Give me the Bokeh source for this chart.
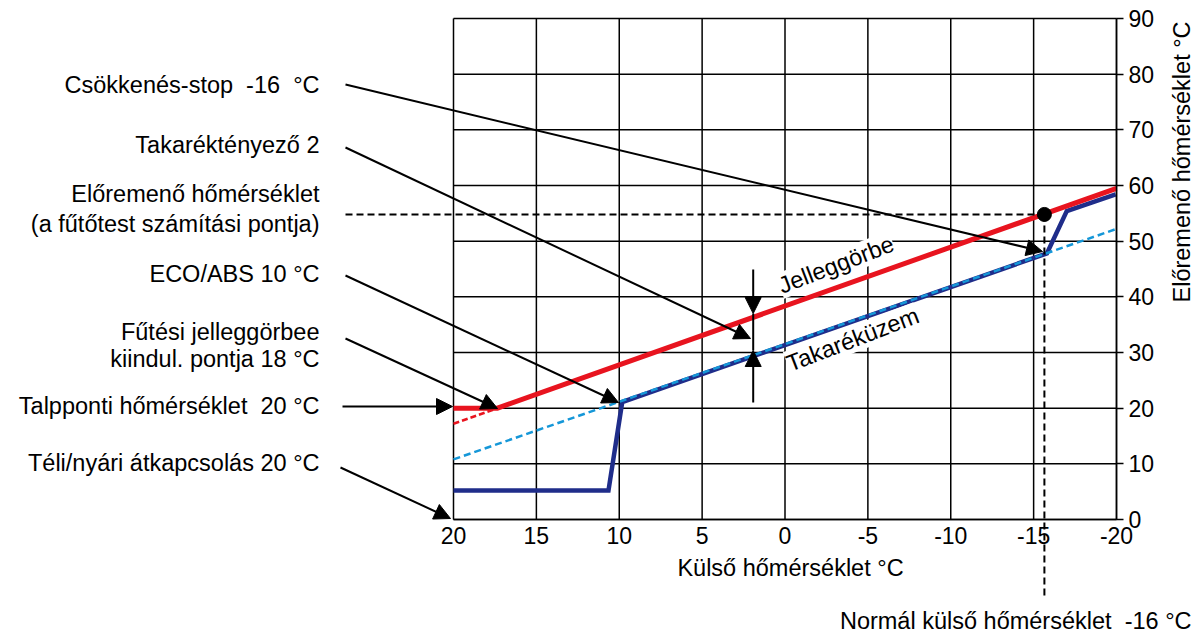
import math
from bokeh.plotting import figure
from bokeh.models import Range1d, FixedTicker, Label, Arrow, NormalHead, LinearAxis
from bokeh.embed import file_html
from bokeh.resources import INLINE

# ---------------- data ----------------
x_ticks = [20, 15, 10, 5, 0, -5, -10, -15, -20]
x_tick_labels = ["20", "15", "10", "5", "0", "-5", "-10", "-15", "-20"]
y_ticks = [0, 10, 20, 30, 40, 50, 60, 70, 80, 90]
y_tick_labels = ["0", "10", "20", "30", "40", "50", "60", "70", "80", "90"]

# heating curve (Jelleggörbe), red
heating_x = [20, 17.35, -20]
heating_y = [20, 20, 59.5]
# dashed extension of the heating curve below the floor temperature
heating_ext_x = [20, 17.35]
heating_ext_y = [17.2, 20]
# reduced (economy) curve, light blue dashed
reduced_x = [20, -20]
reduced_y = [10.8, 52.2]
# resulting flow temperature, navy
actual_x = [20, 10.65, 9.82, -15.8, -17.0, -19.95]
actual_y = [5.2, 5.2, 21.1, 47.8, 55.4, 58.4]
# design point
design_outdoor = -15.65
design_flow = 54.8

# ---------------- layout / style ----------------
FONT = "Liberation Sans"
FS = "23px"
FS_T = "23.5px"
RED = "#e8141f"
NAVY = "#1f2d8a"
LBLUE = "#1597d8"
NB = "\u00a0"

W, H = 1200, 633
# pixel position of the chart area inside the canvas
FL, FR, FT, FB = 453, 1116, 18, 519
XMAX, XMIN = x_ticks[0], x_ticks[-1]
YMIN, YMAX = y_ticks[0], y_ticks[-1]


def dx(px):
    return XMAX + (px - FL) * (XMIN - XMAX) / (FR - FL)


def dy(py):
    return YMIN + (FB - py) * (YMAX - YMIN) / (FB - FT)


p = figure(width=W, height=H, output_backend="svg", toolbar_location=None,
           x_range=Range1d(dx(0), dx(W)), y_range=Range1d(dy(H), dy(0)),
           x_axis_type=None, y_axis_type=None,
           min_border=0, min_border_left=0, min_border_right=0,
           min_border_top=0, min_border_bottom=0)
p.background_fill_color = "white"
p.border_fill_color = "white"
p.outline_line_color = None

# grid lines of the chart area
p.segment(x0=x_ticks, y0=[YMIN] * len(x_ticks), x1=x_ticks, y1=[YMAX] * len(x_ticks),
          line_color="black", line_width=1.5)
p.segment(x0=[XMAX] * len(y_ticks), y0=y_ticks, x1=[XMIN] * len(y_ticks), y1=y_ticks,
          line_color="black", line_width=1.5)

xa = LinearAxis(fixed_location=YMIN, bounds=(XMIN, XMAX))
xa.ticker = FixedTicker(ticks=x_ticks)
xa.major_label_overrides = {t: l for t, l in zip(x_ticks, x_tick_labels)}
xa.major_tick_out = 0
xa.major_tick_in = 0
xa.minor_tick_out = 0
xa.minor_tick_in = 0
xa.axis_line_color = "black"
xa.axis_line_width = 1.5
xa.major_label_standoff = 7
xa.major_label_text_font = FONT
xa.major_label_text_font_size = FS
xa.major_label_text_color = "black"
p.add_layout(xa, "below")

ya = LinearAxis(fixed_location=XMIN, bounds=(YMIN, YMAX))
ya.ticker = FixedTicker(ticks=y_ticks)
ya.major_label_overrides = {t: l for t, l in zip(y_ticks, y_tick_labels)}
ya.major_tick_out = 7
ya.major_tick_in = 0
ya.minor_tick_out = 0
ya.minor_tick_in = 0
ya.major_tick_line_width = 1.5
ya.axis_line_color = "black"
ya.axis_line_width = 1.5
ya.major_label_standoff = 5
ya.major_label_text_font = FONT
ya.major_label_text_font_size = FS
ya.major_label_text_color = "black"
p.add_layout(ya, "right")

# ---------------- curves ----------------
p.line(heating_ext_x, heating_ext_y, line_color=RED, line_width=2.5, line_dash="6 3")
p.line(actual_x, actual_y, line_color=NAVY, line_width=4.5, line_join="miter")
p.line(reduced_x, reduced_y, line_color=LBLUE, line_width=2.5, line_dash="7 4")
p.line(heating_x, heating_y, line_color=RED, line_width=5, line_join="miter")
p.scatter([design_outdoor], [design_flow], size=14, fill_color="black", line_color="black")


def seg(x0, y0, x1, y1, head=True, dash="solid", width=2):
    end = NormalHead(size=16, fill_color="black", line_color="black", line_width=1) if head else None
    p.add_layout(Arrow(x_start=x0, y_start=y0, x_end=x1, y_end=y1, end=end,
                       line_color="black", line_width=width, line_dash=dash))


# design lines (dashed)
seg(dx(345), design_flow, design_outdoor, design_flow, head=False, dash="7 4")
seg(design_outdoor, design_flow, design_outdoor, dy(598), head=False, dash="7 4")

# pointer arrows from the left-hand texts (page pixels: start -> tip)
pointers = [
    (345, 84, 1042, 251),
    (345, 147, 750, 338),
    (345, 275, 618, 402),
    (345, 338, 497, 408),
    (342, 406, 452, 406),
    (340, 467, 450, 518),
]
for x0, y0, x1, y1 in pointers:
    seg(dx(x0), dy(y0), dx(x1), dy(y1))

# double arrow between heating curve and economy curve
seg(dx(752.7), dy(269), dx(752.7), dy(313))
seg(dx(752.7), dy(313), dx(752.7), dy(350), head=False)
seg(dx(752.7), dy(402), dx(752.7), dy(350))

# ---------------- texts ----------------
left_texts = [
    ("Csökkenés-stop" + NB + NB + "-16" + NB + NB + "°C", 84),
    ("Takaréktényező 2", 144),
    ("Előremenő hőmérséklet", 193),
    ("(a fűtőtest számítási pontja)", 223),
    ("ECO/ABS 10 °C", 273),
    ("Fűtési jelleggörbee", 331),
    ("kiindul. pontja 18 °C", 358),
    ("Talpponti hőmérséklet" + NB + NB + "20 °C", 405),
    ("Téli/nyári átkapcsolás 20 °C", 462),
]
for t, by in left_texts:
    p.add_layout(Label(x=dx(319), y=dy(by), text=t, text_font=FONT, text_font_size=FS_T,
                       text_align="right", text_baseline="alphabetic", text_color="black"))

ang = math.radians(21)
p.add_layout(Label(x=dx(779), y=dy(286), text="Jelleggörbe", text_font=FONT, text_font_size=FS_T,
                   text_align="left", text_baseline="alphabetic", angle=ang,
                   background_fill_color="white", text_color="black"))
p.add_layout(Label(x=dx(787), y=dy(364), text="Takaréküzem", text_font=FONT, text_font_size=FS_T,
                   text_align="left", text_baseline="alphabetic", angle=ang,
                   background_fill_color="white", text_color="black"))

p.add_layout(Label(x=dx(1191), y=dy(620), text="Normál külső hőmérséklet" + NB + NB + "-16 °C",
                   text_font=FONT, text_font_size=FS_T, text_align="right",
                   text_baseline="alphabetic", text_color="black"))

p.add_layout(Label(x=dx(790), y=dy(567), text="Külső hőmérséklet °C",
                   text_font=FONT, text_font_size=FS_T, text_align="center",
                   text_baseline="alphabetic", text_color="black"))

p.add_layout(Label(x=dx(1181), y=dy(302), text="Előremenő hőmérséklet °C",
                   text_font=FONT, text_font_size=FS_T, text_align="left",
                   text_baseline="middle", angle=math.pi / 2, text_color="black"))

open("out.html", "w").write(file_html(p, INLINE))
